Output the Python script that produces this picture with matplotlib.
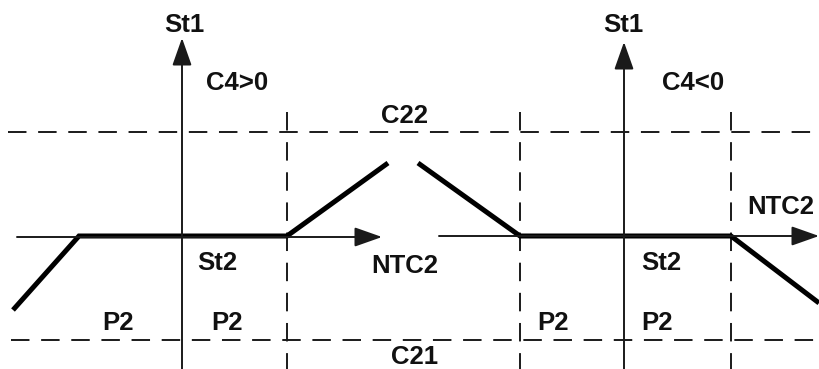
import matplotlib
matplotlib.use("Agg")
import matplotlib.pyplot as plt

# Diagram geometry in pixel units (x right, y down)
left_curve_x = [13, 79, 287, 388]
left_curve_y = [310, 236, 236, 163]
right_curve_x = [418, 520, 731, 819]
right_curve_y = [163, 236, 236, 303]

h_dashed_y = [132, 340]
h_dashed_x0 = [8, 11]
h_dashed_x1 = [812, 819]
v_dashed_x = [287, 520, 731]
v_dashed_top = 112

# axes: (x0, y0) -> arrow tip (x1, y1)
axis_arrows = [
    ((182, 369), (182, 38)),
    ((17, 237), (382, 237)),
    ((624, 369), (624, 42)),
    ((439, 236), (819, 236)),
]

labels = [
    ("St1", 184, 25), ("C4>0", 237, 83), ("C22", 405, 116),
    ("St2", 217, 263), ("NTC2", 405, 266), ("P2", 118, 323),
    ("P2", 227, 323), ("C21", 415, 357),
    ("St1", 623, 25), ("C4<0", 693, 83), ("NTC2", 781, 207),
    ("St2", 661, 263), ("P2", 553, 323), ("P2", 657, 323),
]

W, H = 819, 369
fig = plt.figure(figsize=(W / 100, H / 100), dpi=100)
ax = fig.add_axes([0, 0, 1, 1])
ax.set_xlim(0, W)
ax.set_ylim(H, 0)
ax.axis("off")

for y, x0, x1 in zip(h_dashed_y, h_dashed_x0, h_dashed_x1):
    ax.plot([x0, x1], [y, y], color="#1a1a1a", lw=1.4, dashes=(9.5, 6.0))
for x in v_dashed_x:
    ax.plot([x, x], [v_dashed_top, H], color="#1a1a1a", lw=1.4, dashes=(9.5, 6.0))

for (x0, y0), (x1, y1) in axis_arrows:
    ax.annotate("", xy=(x1, y1), xytext=(x0, y0),
                arrowprops=dict(arrowstyle="-|>,head_length=0.85,head_width=0.3",
                                lw=1.4, color="#1a1a1a", shrinkA=0, shrinkB=0,
                                mutation_scale=20))

ax.plot(left_curve_x, left_curve_y, color="black", lw=3.6, solid_capstyle="butt",
        solid_joinstyle="miter")
ax.plot(right_curve_x, right_curve_y, color="black", lw=3.6, solid_capstyle="butt",
        solid_joinstyle="miter")

for txt, x, y in labels:
    ax.text(x, y, txt, ha="center", va="center", fontsize=18.5, fontweight="bold",
            family="Liberation Sans", color="#111111")

fig.savefig("out.png", dpi=100)
